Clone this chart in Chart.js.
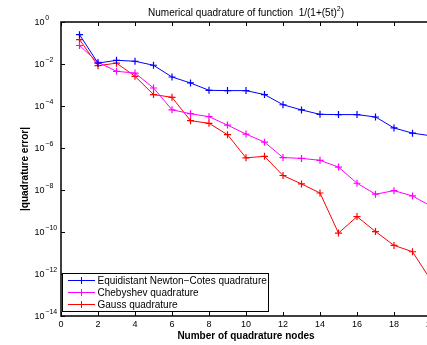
<!DOCTYPE html>
<html>
<head>
<meta charset="utf-8">
<script src="https://cdn.jsdelivr.net/npm/chart.js@4/dist/chart.umd.min.js"></script>
<style>
html,body{margin:0;padding:0;background:#fff;overflow:hidden;}
#wrap{position:relative;width:440px;height:345px;}
</style>
</head>
<body>
<div id="wrap"><canvas id="c"></canvas></div>
<script>
// ---- data ----
const nodes = [1,2,3,4,5,6,7,8,9,10,11,12,13,14,15,16,17,18,19,20];
const newtonCotes = [2.5e-1,1.1e-2,1.5e-2,1.35e-2,8.7e-3,2.4e-3,1.25e-3,5.6e-4,5.4e-4,5.4e-4,3.5e-4,1.15e-4,6.5e-5,4.0e-5,3.9e-5,3.9e-5,3.0e-5,9.0e-6,5.1e-6,3.8e-6];
const chebyshev = [7.6e-2,1.2e-2,4.5e-3,3.7e-3,7.2e-4,6.6e-5,4.3e-5,3.1e-5,1.23e-5,4.6e-6,1.9e-6,3.5e-7,3.2e-7,2.6e-7,1.23e-7,2.1e-8,6.3e-9,9.3e-9,5.2e-9,1.7e-9];
const gauss = [1.46e-1,8.3e-3,1.1e-2,2.6e-3,3.5e-4,2.6e-4,2.0e-5,1.5e-5,4.3e-6,3.4e-7,4.0e-7,4.9e-8,1.95e-8,7.2e-9,8.9e-11,5.4e-10,1.05e-10,2.3e-11,1.15e-11,5.0e-13];
const seriesNames = ['Equidistant Newton\u2212Cotes quadrature','Chebyshev quadrature','Gauss quadrature'];
const seriesColors = ['#0000ff','#ff00ff','#ff0000'];
const xTicks = [0,2,4,6,8,10,12,14,16,18,20];
const yTickExponents = [0,-2,-4,-6,-8,-10,-12,-14];
const titleMain = 'Numerical quadrature of function  1/(1+(5t)';
const titleSup = '2';
const titleEnd = ')';
const xTitle = 'Number of quadrature nodes';
const yTitle = '|quadrature error|';

const FONT = "'Liberation Sans', Arial, sans-serif";

function mk(vals, i){
  return {
    label: seriesNames[i],
    data: nodes.map((n,k)=>({x:n,y:vals[k]})),
    borderColor: seriesColors[i],
    backgroundColor: seriesColors[i],
    borderWidth: 1,
    pointStyle: 'cross',
    pointRadius: 3.5,
    pointBorderWidth: 1.2,
    pointHoverRadius: 3.5,
    tension: 0,
    clip: false
  };
}

const decor = {
  id: 'decor',
  afterDraw(chart){
    const ctx = chart.ctx;
    const a = chart.chartArea;
    const xs = chart.scales.x, ys = chart.scales.y;
    ctx.save();
    // axes box (left, bottom, top) - right side lies outside the window
    ctx.strokeStyle = '#000';
    ctx.lineWidth = 1.5;
    ctx.beginPath();
    ctx.moveTo(a.right, a.top); ctx.lineTo(a.left, a.top);
    ctx.lineTo(a.left, a.bottom); ctx.lineTo(a.right, a.bottom);
    ctx.lineTo(a.right, a.top);
    ctx.stroke();
    // inward ticks
    ctx.lineWidth = 1;
    ctx.beginPath();
    xTicks.forEach(v=>{
      const px = Math.round(xs.getPixelForValue(v))+0.5;
      ctx.moveTo(px, a.bottom); ctx.lineTo(px, a.bottom-4);
      ctx.moveTo(px, a.top); ctx.lineTo(px, a.top+4);
    });
    yTickExponents.forEach(e=>{
      const py = Math.round(ys.getPixelForValue(Math.pow(10,e)))+0.5;
      ctx.moveTo(a.left, py); ctx.lineTo(a.left+4, py);
      ctx.moveTo(a.right, py); ctx.lineTo(a.right-4, py);
    });
    ctx.stroke();
    // y tick labels 10^e
    ctx.fillStyle = '#000';
    ctx.textBaseline = 'middle';
    yTickExponents.forEach(e=>{
      const py = ys.getPixelForValue(Math.pow(10,e));
      ctx.font = '9px ' + FONT;
      ctx.textAlign = 'right';
      ctx.fillText('10', 44.5, py+1);
      ctx.font = '7px ' + FONT;
      ctx.textAlign = 'left';
      ctx.fillText(e===0 ? '0' : '\u2212'+Math.abs(e), 45.3, py-3.5);
    });
    // title
    const cx = (a.left + a.right)/2;
    ctx.font = '10px ' + FONT;
    const w1 = ctx.measureText(titleMain).width;
    ctx.font = '7px ' + FONT;
    const w2 = ctx.measureText(titleSup).width;
    ctx.font = '10px ' + FONT;
    const w3 = ctx.measureText(titleEnd).width;
    let tx = cx - (w1+w2+w3)/2;
    ctx.textAlign = 'left';
    ctx.textBaseline = 'alphabetic';
    ctx.fillText(titleMain, tx, 16);
    ctx.font = '7px ' + FONT;
    ctx.fillText(titleSup, tx+w1, 11);
    ctx.font = '10px ' + FONT;
    ctx.fillText(titleEnd, tx+w1+w2, 16);
    // y title
    ctx.save();
    ctx.translate(25, (a.top+a.bottom)/2);
    ctx.rotate(-Math.PI/2);
    ctx.font = 'bold 10px ' + FONT;
    ctx.textAlign = 'center';
    ctx.textBaseline = 'middle';
    ctx.fillText(yTitle, 0, 0);
    ctx.restore();
    // legend
    const lx = 62.5, ly = 273.5, lw = 206, lh = 38;
    ctx.fillStyle = '#fff';
    ctx.fillRect(lx, ly, lw, lh);
    ctx.strokeStyle = '#000';
    ctx.lineWidth = 1;
    ctx.strokeRect(lx, ly, lw, lh);
    const rows = [280.5, 292.5, 304.5];
    seriesNames.forEach((name,i)=>{
      const y = rows[i];
      ctx.strokeStyle = seriesColors[i];
      ctx.lineWidth = 1;
      ctx.beginPath();
      ctx.moveTo(68, y); ctx.lineTo(95, y);
      ctx.moveTo(81.5, y-3.5); ctx.lineTo(81.5, y+3.5);
      ctx.stroke();
      ctx.fillStyle = '#000';
      ctx.font = '10px ' + FONT;
      ctx.textAlign = 'left';
      ctx.textBaseline = 'middle';
      ctx.fillText(name, 97.5, y+0.5);
    });
    ctx.restore();
  }
};

new Chart(document.getElementById('c'), {
  type: 'line',
  data: { datasets: [mk(newtonCotes,0), mk(chebyshev,1), mk(gauss,2)] },
  plugins: [decor],
  options: {
    responsive: true,
    maintainAspectRatio: false,
    animation: false,
    events: [],
    layout: { padding: { left: 0, right: 9, top: 22, bottom: 0 } },
    plugins: { legend: { display: false }, title: { display: false }, tooltip: { enabled: false } },
    scales: {
      x: {
        type: 'linear', min: 0, max: 20,
        afterBuildTicks: s => { s.ticks = xTicks.map(v=>({value:v})); },
        afterFit: s => { s.height = 29; },
        grid: { display: false, drawTicks: false },
        border: { display: false },
        ticks: { color: '#000', font: { family: FONT, size: 9 }, padding: 3, maxRotation: 0, autoSkip: false },
        title: { display: true, text: xTitle, color: '#000', font: { family: FONT, size: 10, weight: 'bold' }, padding: { top: 0, bottom: 3 } }
      },
      y: {
        type: 'logarithmic', min: 1e-14, max: 1,
        afterBuildTicks: s => { s.ticks = yTickExponents.map(e=>({value:Math.pow(10,e)})); },
        afterFit: s => { s.width = 61; },
        grid: { display: false, drawTicks: false },
        border: { display: false },
        ticks: { display: false }
      }
    }
  }
});
</script>
</body>
</html>
